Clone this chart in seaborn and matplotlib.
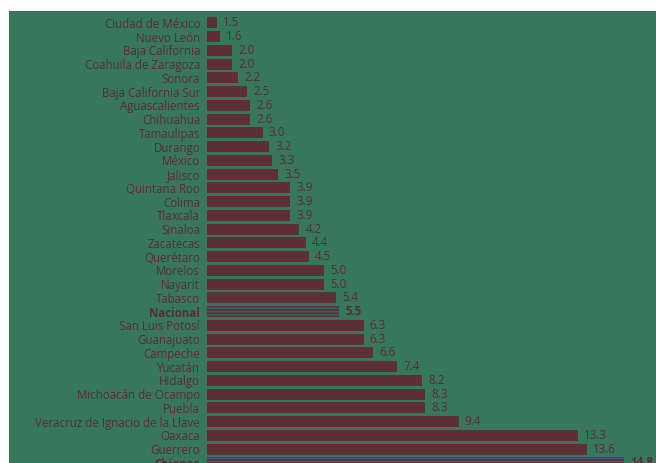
import matplotlib
matplotlib.use("Agg")
import matplotlib.pyplot as plt
from matplotlib.patches import Rectangle
import seaborn as sns
import pandas as pd

estados = ["Ciudad de México", "Nuevo León", "Baja California", "Coahuila de Zaragoza",
           "Sonora", "Baja California Sur", "Aguascalientes", "Chihuahua", "Tamaulipas",
           "Durango", "México", "Jalisco", "Quintana Roo", "Colima", "Tlaxcala", "Sinaloa",
           "Zacatecas", "Querétaro", "Morelos", "Nayarit", "Tabasco", "Nacional",
           "San Luis Potosí", "Guanajuato", "Campeche", "Yucatán", "Hidalgo",
           "Michoacán de Ocampo", "Puebla", "Veracruz de Ignacio de la Llave",
           "Oaxaca", "Guerrero", "Chiapas"]
valores = [1.5, 1.6, 2.0, 2.0, 2.2, 2.5, 2.6, 2.6, 3.0, 3.2, 3.3, 3.5, 3.9, 3.9, 3.9, 4.2,
           4.4, 4.5, 5.0, 5.0, 5.4, 5.5, 6.3, 6.3, 6.6, 7.4, 8.2, 8.3, 8.3, 9.4,
           13.3, 13.6, 14.8]
destacados = ["Nacional", "Chiapas"]

df = pd.DataFrame({"estado": estados, "valor": valores})

BG = "#37775a"
BAR = "#5e3036"
TXT = "#5b2b3b"
FS = 8.3

sns.set_theme(style="white")
plt.rcParams['font.family'] = ['Open Sans', 'DejaVu Sans']
plt.rcParams['hatch.linewidth'] = 1.0

W, H = 656, 463
fig = plt.figure(figsize=(W / 100, H / 100), dpi=100, facecolor="white")
fig.patches.append(Rectangle((9 / W, 0), 1 - 9 / W, 452 / H, transform=fig.transFigure,
                             facecolor=BG, edgecolor="none", zorder=-10))
ax = fig.add_axes([207 / W, 0, (W - 207) / W, 452 / H])
ax.set_facecolor(BG)

sns.barplot(data=df, x="valor", y="estado", orient="h", color=BAR, saturation=1,
            width=0.8, ax=ax, order=estados)

for patch, name in zip(ax.patches, estados):
    patch.set_edgecolor("none")
    if name in destacados:
        patch.set_hatch("-----")
        patch.set_edgecolor("#3d5d78")
        patch.set_linewidth(0)

for i, (name, v) in enumerate(zip(estados, valores)):
    ax.text(v + 0.2, i, f"{v:.1f}", va="center", ha="left", fontsize=FS,
            color=TXT, fontweight="bold" if name in destacados else "normal")

ax.set_xlim(1.18, 15.85)
ax.set_ylim(32.0, -0.87)
ax.set_xlabel("")
ax.set_ylabel("")
ax.set_xticks([])
ax.tick_params(axis="y", length=0, pad=5, labelsize=FS, labelcolor=TXT)
for lbl in ax.get_yticklabels():
    if lbl.get_text() in destacados:
        lbl.set_fontweight("bold")
for s in ax.spines.values():
    s.set_visible(False)

fig.savefig("out.png", dpi=100, facecolor="white")
